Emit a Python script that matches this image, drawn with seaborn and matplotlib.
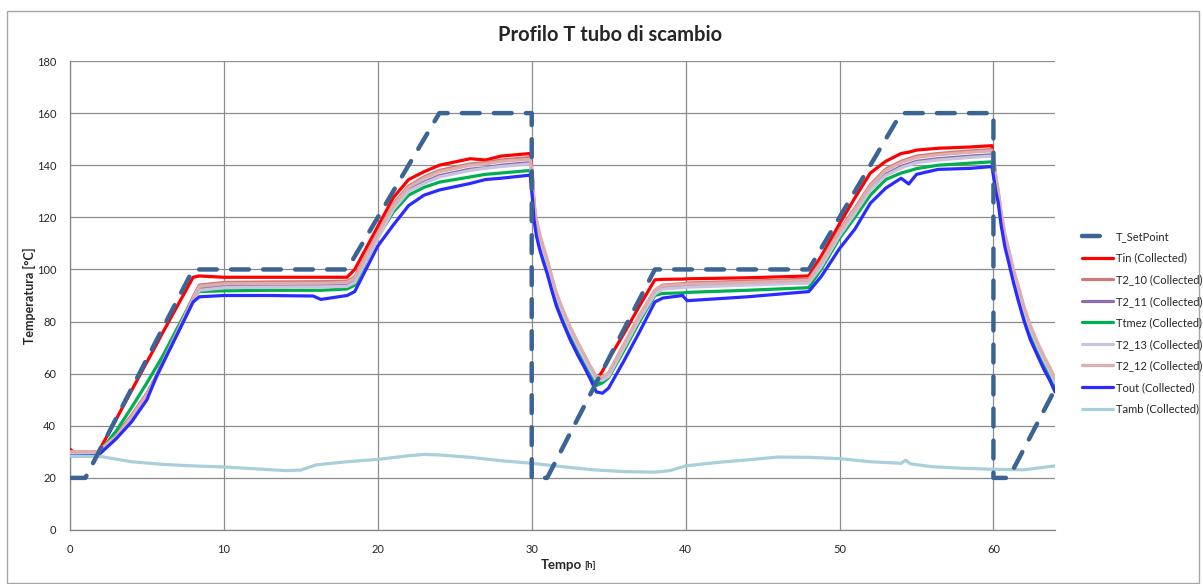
import numpy as np
import pandas as pd
import seaborn as sns
import matplotlib.pyplot as plt
from matplotlib.patches import Rectangle
from matplotlib.ticker import MultipleLocator

# tempo comune per le serie misurate [h]
tempo = [0, 0.3, 1.8, 3, 4, 5, 5.6, 6, 8, 8.4,
         10, 13, 15.8, 16.3, 18, 18.5, 20, 21, 22, 23,
         24, 26, 27, 28,
         29.9, 30.05, 30.15, 30.3, 30.5, 30.75, 31, 31.3, 31.6, 32,
         32.5, 33, 33.4, 33.8, 34.2,
         34.6, 35, 36, 37, 38, 38.5, 39.8, 40.1,
         44, 48, 48.8, 50, 51, 52, 53, 54, 54.5, 55,
         56.4, 58.5,
         59.9, 60.05, 60.15, 60.3, 60.5, 60.75, 61, 61.3, 61.6, 62,
         62.4, 62.9, 63.3, 63.7, 64]

t_in = [31, 29.5, 29.5, 42.5, 53.5, 64.5, 71, 75.5, 97, 97.5,
        97, 97, 97, 97, 97, 100, 116.5, 127.5, 134.5, 137.5,
        140, 142.5, 142, 143.5,
        144.5, 135, 124, 117.5, 112, 106.5, 101.5, 95, 89, 83,
        76, 70, 65.5, 61.5, 57.5,
        61, 65.5, 75.5, 86, 96, 96.2, 96.3, 96.4,
        96.8, 97.5, 105, 117.5, 127.5, 137, 141.5, 144.5, 145, 145.8,
        146.5, 147,
        147.5, 140, 134, 129, 120, 111.5, 105.5, 98, 91.5, 83,
        76.5, 69, 64.5, 60, 56]
t2_10 = [30, 30, 30, 36.5, 44, 52.5, 59, 64.5, 89.5, 94,
         95, 95.2, 95.3, 95.3, 95.5, 97, 114, 125, 132, 135.5,
         138, 140.5, 141, 142,
         143, 135, 124.5, 118, 112.5, 107.5, 103, 96.5, 90.5, 84,
         77, 71, 66.5, 62, 58,
         58, 60, 71, 82, 92, 94, 94.5, 94.8,
         95.5, 96.3, 103, 115, 123.5, 132.5, 138.5, 141.5, 142.5, 143.5,
         144.5, 145.5,
         146, 141, 135, 130, 121, 112.5, 106.5, 99, 93, 84.5,
         77.5, 70.5, 65.5, 61, 57]
t2_11 = [29.5, 29.5, 29.5, 36, 43.5, 52, 58.5, 64, 88.5, 92.5,
         94, 94, 94, 94, 94.3, 95.5, 112.5, 123.5, 130.5, 133.5,
         136, 138.5, 139, 140,
         141, 134, 123.5, 117, 111.5, 106.5, 102, 95.5, 89.5, 83,
         76, 70, 65.5, 61, 57,
         57, 59, 70, 81, 91, 93, 93.5, 93.6,
         94.3, 95, 101.5, 113.5, 122, 131, 136.5, 139.5, 140.5, 141.5,
         142.5, 143.5,
         144, 140, 134, 129, 120, 111.5, 105.5, 98, 92, 83.5,
         76.5, 69.5, 64.5, 60, 56]
t_tmez = [29, 29, 29, 38, 47, 56.5, 62.5, 66.5, 89, 91.5,
          91.8, 92, 92, 92, 92.5, 94, 112.5, 122, 128.5, 131.5,
          133.5, 135.5, 136.5, 137,
          138, 130, 121.5, 115, 109.5, 104.5, 100, 93.5, 87.5, 81.5,
          74.5, 68.5, 64, 59.5, 55.5,
          56.5, 58.5, 69, 80, 90, 90.8, 91, 91.2,
          92, 93, 100, 112, 120, 128.5, 134.5, 137, 137.8, 138.7,
          140, 140.8,
          141.3, 136, 131.5, 127.5, 118.5, 110, 104, 96.5, 89.5, 81.5,
          74.5, 67.5, 62.5, 58, 54]
t2_13 = [29.5, 29.5, 29.5, 35.5, 43, 51.5, 58, 63.5, 88, 92,
         93, 93.2, 93.3, 93.3, 93.5, 95, 112, 123, 130, 133,
         135.5, 138, 138.8, 139.5,
         140.5, 133.5, 123.5, 117, 111.5, 107, 102.5, 96, 90, 83.5,
         76.5, 70.5, 66, 61.5, 57.5,
         57.5, 59, 70, 81, 90.5, 92.5, 93, 93.2,
         94, 94.8, 101, 113, 121.5, 130.5, 136, 139, 140, 141,
         142, 143,
         143.5, 140, 134.5, 129.5, 120.5, 112, 106, 98.5, 92.5, 84,
         77, 70, 65, 60.5, 56.5]
t2_12 = [30, 30, 30, 36, 43.5, 52, 58.5, 64, 89, 93.5,
         94.5, 94.6, 94.7, 94.7, 95, 96.5, 113.5, 124.5, 131.5, 135,
         137.5, 140, 140.5, 141.5,
         142.3, 136, 126, 119.5, 114, 109, 104, 97.5, 91, 85,
         78, 72, 67.5, 63, 59,
         58.5, 60.5, 71.5, 82.5, 92, 93.8, 94.2, 94.4,
         95, 95.8, 102.5, 114.5, 123, 132, 138, 141, 142, 143,
         144, 145,
         145.5, 142, 136, 131, 122, 113.5, 107.5, 100, 94, 85.5,
         78.5, 71.5, 66.5, 62, 58]
t_out = [28.5, 28.5, 28.5, 35, 41.5, 50, 58.7, 63.5, 87.5, 89.5,
         90, 90, 89.8, 88.5, 90, 91.5, 109, 117, 124.5, 128.5,
         130.5, 133, 134.5, 135,
         136.2, 127, 119, 113, 108, 103, 98.5, 92, 86, 80,
         73, 67, 62.7, 58, 53,
         52.5, 54.5, 65, 76, 87.5, 89, 90, 88,
         89.5, 91.5, 97.2, 108, 115.5, 125.4, 131.2, 135, 132.8, 136.5,
         138.4, 138.8,
         139.5, 134, 130, 126, 117, 108.5, 102.5, 95, 88.3, 80,
         73, 66.5, 61.4, 57, 53]

tempo_amb = [0, 2, 4, 6, 8, 10, 12, 14, 15, 16, 18, 20, 22, 23, 24, 26, 28, 30, 32,
             34, 36, 38, 39, 40, 42, 44, 46, 48, 50, 52, 54, 54.3, 54.6, 56, 58,
             60, 62, 64]
t_amb = [28.4, 28.2, 26.2, 25.2, 24.6, 24.2, 23.5, 22.8, 23.0, 25.0, 26.2, 27.1,
         28.5, 29.0, 28.8, 27.9, 26.6, 25.6, 24.3, 23.1, 22.4, 22.2, 22.8, 24.6,
         25.9, 26.9, 28.0, 27.9, 27.4, 26.2, 25.6, 26.8, 25.4, 24.3, 23.7, 23.3,
         23.1, 24.6]

tempo_sp = [0, 1, 8, 18, 24, 30, 30, 31, 38, 48, 54, 60, 60, 61, 64]
t_sp = [20, 20, 100, 100, 160, 160, 20, 20, 100, 100, 160, 160, 20, 20, 54]

serie = [
    ('Tin (Collected)', t_in, '#ff0000'),
    ('T2_10 (Collected)', t2_10, '#cf7a78'),
    ('T2_11 (Collected)', t2_11, '#8a6fae'),
    ('Ttmez (Collected)', t_tmez, '#00b050'),
    ('T2_13 (Collected)', t2_13, '#c9c3df'),
    ('T2_12 (Collected)', t2_12, '#dcaeae'),
    ('Tout (Collected)', t_out, '#2b2bff'),
]

sns.set_style('white')
plt.rcParams['font.family'] = ['Lato', 'DejaVu Sans']

fig = plt.figure(figsize=(12.03, 5.84), dpi=100)
ax = fig.add_axes([70 / 1203, 1 - 530 / 584, (1055 - 70) / 1203, (530 - 61) / 584])

sns.lineplot(x=tempo_sp, y=t_sp, ax=ax, estimator=None, sort=False,
             color='#3b6494', lw=3.2, label='T_SetPoint', zorder=5)
ax.lines[-1].set_dashes((4, 3.2))
ax.lines[-1].set_dash_capstyle('round')

for nome, valori, col in serie:
    sns.lineplot(x=tempo, y=valori, ax=ax, estimator=None, sort=False,
                 color=col, lw=2.3, label=nome, zorder=3)
sns.lineplot(x=tempo_amb, y=t_amb, ax=ax, estimator=None, sort=False,
             color='#a9cfdb', lw=2.3, label='Tamb (Collected)', zorder=3)

ax.set_xlim(0, 64)
ax.set_ylim(0, 180)
ax.xaxis.set_major_locator(MultipleLocator(10))
ax.xaxis.set_minor_locator(MultipleLocator(2))
ax.yaxis.set_major_locator(MultipleLocator(20))
ax.grid(True, which='major', color='#8c8c8c', lw=0.9)
ax.set_axisbelow(True)
for s in ['top', 'right']:
    ax.spines[s].set_visible(False)
for s in ['left', 'bottom']:
    ax.spines[s].set_color('#868686')
    ax.spines[s].set_linewidth(0.9)
ax.tick_params(axis='both', which='major', labelsize=8, length=4,
               color='#868686', direction='out', pad=6)
ax.tick_params(axis='x', which='minor', length=4, color='#868686',
               direction='in')
ax.set_xlabel('')
ax.set_ylabel('')

handles, labels = ax.get_legend_handles_labels()
ax.get_legend().remove()
fig.legend(handles, labels, loc='upper left',
           bbox_to_anchor=(1072 / 1203, 1 - 221 / 584), frameon=False,
           fontsize=8, handlelength=2.8, handletextpad=0.25,
           labelspacing=0.95)

fig.text(0.507, 1 - 35 / 584, 'Profilo T tubo di scambio', ha='center',
         va='center', fontsize=14.5, fontweight='bold')
fig.text(29 / 1203, 1 - 296 / 584, 'Temperatura [°C]', rotation=90,
         ha='center', va='center', fontsize=9, fontweight='bold')
fig.text(582 / 1203, 1 - 565 / 584, 'Tempo', ha='right', va='center',
         fontsize=9.5, fontweight='bold')
fig.text(584 / 1203, 1 - 566 / 584, '[h]', ha='left', va='center',
         fontsize=7, fontweight='bold')

fig.add_artist(Rectangle((7 / 1203, 1 / 584), 1192 / 1203, 572 / 584,
                         transform=fig.transFigure, fill=False,
                         edgecolor='#a6a6a6', lw=1.0))

fig.savefig('out.png', dpi=100)
